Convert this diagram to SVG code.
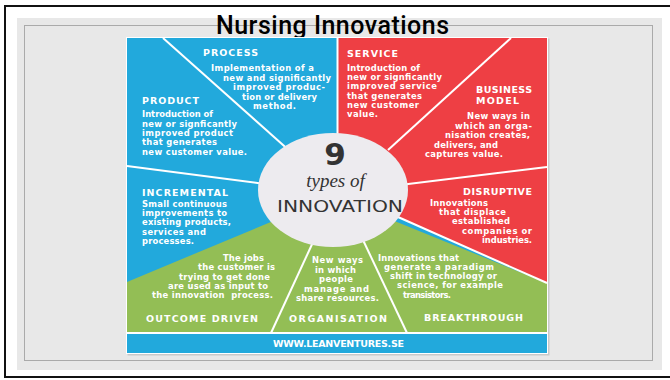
<svg xmlns="http://www.w3.org/2000/svg" width="670" height="380" viewBox="0 0 670 380">
<style>
.h{font-family:"DejaVu Sans","Liberation Sans",sans-serif;font-weight:bold;font-size:9.5px;fill:#fff}
.b{font-family:"DejaVu Sans","Liberation Sans",sans-serif;font-weight:bold;font-size:8.4px;fill:#fff}
.div{stroke:#fff;stroke-width:2;fill:none}
</style>
<rect x="0" y="0" width="670" height="380" fill="#fff"/>
<rect x="5" y="6" width="672" height="371" fill="none" stroke="#111" stroke-width="2"/>
<rect x="17" y="18" width="645" height="352" fill="#e8e8e8"/>
<rect x="24.5" y="25.5" width="628" height="335" fill="none" stroke="#aaa" stroke-width="1"/>
<text x="216" y="34" font-family="Roboto, Liberation Sans, Arial, sans-serif" font-weight="500" font-size="25" fill="#000" textLength="233">Nursing Innovations</text>

<g id="infographic">
<rect x="127.5" y="38.5" width="422" height="317" fill="#c9c9c9"/>
<rect x="126" y="37" width="422" height="317" fill="#fff"/>
<rect x="127" y="38" width="420" height="315" fill="#22a9dc"/>
<polygon points="338,38 547,38 547,283 333,189 338,150" fill="#ee3f44"/>
<polygon points="127,282 333,196 547,283 547,333 127,333" fill="#93be55"/>
</g>

<g id="connectors">
<line class="div" x1="337.5" y1="38" x2="337.5" y2="150"/>
<line class="div" x1="163" y1="38" x2="292" y2="153"/>
<line class="div" x1="127" y1="166" x2="265" y2="184"/>
<line class="div" x1="314" y1="240" x2="271" y2="333"/>
<line class="div" x1="363" y1="240" x2="407" y2="333"/>
<line class="div" x1="398" y1="217" x2="547" y2="283"/>
<line class="div" x1="400" y1="185" x2="547" y2="167"/>
<line class="div" x1="388" y1="150" x2="511" y2="38"/>
<line stroke="#fff" stroke-width="1.8" x1="127" y1="333" x2="547" y2="333"/>
</g>

<g id="center">
<ellipse cx="333" cy="190" rx="75" ry="57" fill="#edebef"/>
<text x="335" y="165" text-anchor="middle" font-family="DejaVu Sans, sans-serif" font-weight="bold" font-size="31" fill="#333">9</text>
<text x="335.5" y="187" text-anchor="middle" font-family="Liberation Serif, serif" font-style="italic" font-size="19" fill="#333">types of</text>
<text x="277" y="212.3" font-family="DejaVu Sans, sans-serif" font-size="16.5" fill="#333" textLength="126" lengthAdjust="spacingAndGlyphs">INNOVATION</text>
</g>

<g id="process">
<text class="h" x="203" y="56" textLength="55">PROCESS</text>
<text class="b" x="211" y="70.5" textLength="103">Implementation of a</text>
<text class="b" x="223" y="80.5" textLength="108">new and significantly</text>
<text class="b" x="233" y="90.2" textLength="92">improved produc-</text>
<text class="b" x="242" y="99.8" textLength="75">tion or delivery</text>
<text class="b" x="253" y="109.4" textLength="43">method.</text>
</g>

<g id="product">
<text class="h" x="142" y="104" textLength="57">PRODUCT</text>
<text class="b" x="142" y="117.3" textLength="71">Introduction of</text>
<text class="b" x="142" y="126.7" textLength="95">new or signficantly</text>
<text class="b" x="142" y="136" textLength="91">improved product</text>
<text class="b" x="142" y="145.3" textLength="75">that generates</text>
<text class="b" x="142" y="154.7" textLength="105">new customer value.</text>
</g>

<g id="service">
<text class="h" x="347" y="56.7" textLength="51">SERVICE</text>
<text class="b" x="347" y="70.7" textLength="73">Introduction of</text>
<text class="b" x="347" y="80" textLength="95">new or signficantly</text>
<text class="b" x="347" y="89.3" textLength="90">improved service</text>
<text class="b" x="347" y="98.7" textLength="75">that generates</text>
<text class="b" x="347" y="108" textLength="72">new customer</text>
<text class="b" x="347" y="117.3" textLength="31">value.</text>
</g>

<g id="business-model">
<text class="h" x="476" y="93.3" textLength="56">BUSINESS</text>
<text class="h" x="476" y="104" textLength="43">MODEL</text>
<text class="b" x="467" y="119.3" textLength="63">New ways in</text>
<text class="b" x="455" y="129" textLength="77">which an orga-</text>
<text class="b" x="445" y="138.3" textLength="85">nisation creates,</text>
<text class="b" x="434" y="147.7" textLength="64">delivers, and</text>
<text class="b" x="425" y="157.3" textLength="78">captures value.</text>
</g>

<g id="incremental">
<text class="h" x="142" y="195.7" textLength="86">INCREMENTAL</text>
<text class="b" x="142" y="206.7" textLength="85">Small continuous</text>
<text class="b" x="142" y="216" textLength="85">improvements to</text>
<text class="b" x="142" y="225.3" textLength="89">existing products,</text>
<text class="b" x="142" y="235" textLength="64">services and</text>
<text class="b" x="142" y="244.3" textLength="52">processes.</text>
</g>

<g id="disruptive">
<text class="h" x="463" y="195" textLength="69">DISRUPTIVE</text>
<text class="b" x="430" y="206" textLength="58">Innovations</text>
<text class="b" x="439" y="215" textLength="67">that displace</text>
<text class="b" x="452" y="224.3" textLength="58">established</text>
<text class="b" x="462" y="234" textLength="70">companies or</text>
<text class="b" x="482" y="243.3" textLength="50">industries.</text>
</g>

<g id="outcome-driven">
<text class="b" x="223" y="260.7" textLength="41">The jobs</text>
<text class="b" x="198" y="270" textLength="77">the customer is</text>
<text class="b" x="179" y="279.7" textLength="91">trying to get done</text>
<text class="b" x="168" y="289.2" textLength="100">are used as input to</text>
<text class="b" x="152" y="298.4" textLength="121" xml:space="preserve">the innovation  process.</text>
<text class="h" x="146" y="321.7" textLength="112">OUTCOME DRIVEN</text>
</g>

<g id="organisation">
<text class="b" x="312" y="263.3" textLength="51">New ways</text>
<text class="b" x="315" y="272.7" textLength="41">in which</text>
<text class="b" x="319" y="282" textLength="34">people</text>
<text class="b" x="304" y="291.7" textLength="65">manage and</text>
<text class="b" x="296" y="301" textLength="83">share resources.</text>
<text class="h" x="289" y="321.7" textLength="98">ORGANISATION</text>
</g>

<g id="breakthrough">
<text class="b" x="378" y="260.7" textLength="81">Innovations that</text>
<text class="b" x="384" y="270" textLength="110">generate a paradigm</text>
<text class="b" x="390" y="279.3" textLength="107">shift in technology or</text>
<text class="b" x="397" y="288.3" textLength="106">science, for example</text>
<text class="b" x="403" y="297.7" textLength="48">transistors.</text>
<text class="h" x="424" y="320.7" textLength="99">BREAKTHROUGH</text>
</g>

<g id="footer">
<text class="h" x="273" y="346.7" font-size="8.5" textLength="131">WWW.LEANVENTURES.SE</text>
</g>
</svg>
